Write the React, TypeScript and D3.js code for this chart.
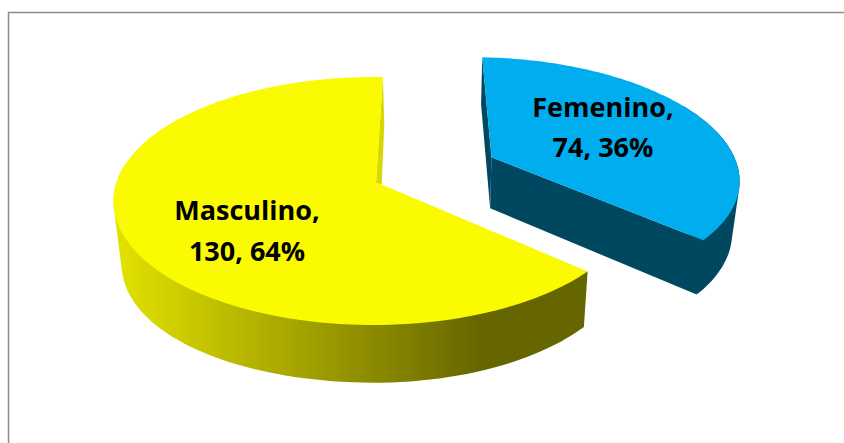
import React from "react";
import * as d3 from "d3";

const categories = ["Femenino", "Masculino"];
const values = [74, 130];
const percents = [36, 64];
const topColors = ["#00aeef", "#fafa00"];
const W = 844, H = 443;
const START = (1.25 * Math.PI) / 180;
const EXPLODE = [0.5, 0];
const cx = 378, cy = 183, a = 257.5, b = 121.4, k = 0.145, m = 0.016;

const sx = d3.scaleLinear().domain([0, 1]).range([0, a]);
const sy = d3.scaleLinear().domain([0, 1]).range([0, b]);

type P = [number, number];
const project = (u: number, v: number, bottom: boolean): P => {
  const d = 1 - k * v + m * u;
  const X = sx(u) / d;
  const Y = sy(v) / d;
  if (!bottom) return [cx + X, cy + Y];
  const extra = u < 0 ? 10 * u * u : 0;
  return [cx + 1.5 + X * 0.975, cy + 52 + Y * 1.04 + extra];
};
const pie = d3.pie<number>().sort(null).startAngle(START).endAngle(START + 2 * Math.PI);
const slices = pie(values);
const line = d3.line<P>();
const closed = (pts: P[]) => (line(pts) ?? "") + "Z";

function arcPts(s: d3.PieArcDatum<number>, ex: number, bottom: boolean): P[] {
  const mid = (s.startAngle + s.endAngle) / 2;
  const ou = Math.sin(mid) * ex, ov = -Math.cos(mid) * ex;
  const n = 120;
  const pts: P[] = [];
  for (let i = 0; i <= n; i++) {
    const t = s.startAngle + ((s.endAngle - s.startAngle) * i) / n;
    pts.push(project(ou + Math.sin(t), ov - Math.cos(t), bottom));
  }
  return pts;
}
const apex = (s: d3.PieArcDatum<number>, ex: number, bottom: boolean): P => {
  const mid = (s.startAngle + s.endAngle) / 2;
  return project(Math.sin(mid) * ex, -Math.cos(mid) * ex, bottom);
};

const fem = slices[0], mas = slices[1];
const femTopArc = arcPts(fem, EXPLODE[0], false);
const femBotArc = arcPts(fem, EXPLODE[0], true);
const femA = apex(fem, EXPLODE[0], false);
const femB = apex(fem, EXPLODE[0], true);
const femTop = [femA, ...femTopArc];
const femSide = d3.polygonHull([...femTopArc.slice(55), ...femBotArc.slice(55)] as P[]) as P[];
const femFront: P[] = [femA, femB, femBotArc[120], femTopArc[120]];
const femBack: P[] = [femTopArc[0], femBotArc[0], femB, femA];

const masTopArc = arcPts(mas, EXPLODE[1], false);
const masBotArc = arcPts(mas, EXPLODE[1], true);
const A = apex(mas, 0, false);
const masLeftApex: P = [A[0] - 2, A[1]];
const masSide = d3.polygonHull([...masTopArc.slice(0, 78), ...masBotArc.slice(0, 78)] as P[]) as P[];
const masWall: P[] = [masTopArc[120], masBotArc[120], apex(mas, 0, true), masLeftApex];
const masTop = [masLeftApex, A, ...masTopArc];

const labelStyle: React.CSSProperties = {
  fontFamily: "'Open Sans', 'Noto Sans', sans-serif",
  fontWeight: 700,
  fontSize: 27,
  fill: "#000",
};

export default function App() {
  return (
    <svg width={W} height={H} style={{ position: "fixed", left: 0, top: 0, background: "#fff" }}>
      <defs>
        <linearGradient id="sideGrad" gradientUnits="userSpaceOnUse" x1={116} x2={480} y1={0} y2={0}>
          <stop offset="0" stopColor="#e2e200" />
          <stop offset="1" stopColor="#666600" />
        </linearGradient>
      </defs>
      <path d="M8.5 443V12.5H844" fill="none" stroke="#8c8c8c" strokeWidth={1.5} />
      <path d={closed(masWall)} fill="#d8d800" />
      <path d={closed(masSide)} fill="url(#sideGrad)" />
      <path d={closed(masTop)} fill={topColors[1]} />
      <g transform="translate(-0.5,-2.5)">
        <path d={closed(femSide)} fill="#004760" />
        <path d={closed(femFront)} fill="#004760" />
        <path d={closed(femBack)} fill="#004760" />
        <path d={closed(femTop)} fill={topColors[0]} />
      </g>
      <g style={labelStyle} textAnchor="middle">
        <text x={603} y={117}>{categories[0]},</text>
        <text x={603} y={157}>{`${values[0]}, ${percents[0]}%`}</text>
        <text x={247} y={220}>{categories[1]},</text>
        <text x={247} y={261}>{`${values[1]}, ${percents[1]}%`}</text>
      </g>
    </svg>
  );
}
